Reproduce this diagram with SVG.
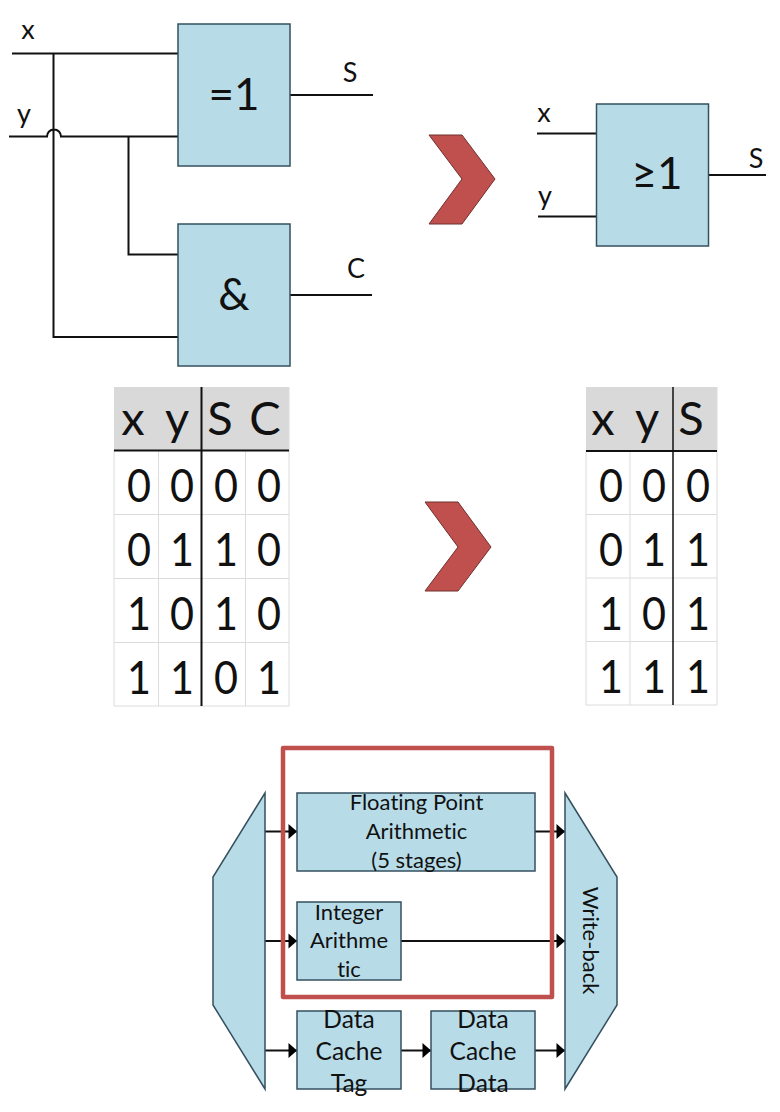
<svg xmlns="http://www.w3.org/2000/svg" width="780" height="1112" viewBox="0 0 780 1112">
<style>
text{font-family:"Lato","Liberation Sans",sans-serif;fill:#111;text-anchor:middle;font-variant-ligatures:none}
.box{fill:#b7dce8;stroke:#35505e;stroke-width:1.5}
.w{fill:none;stroke:#111;stroke-width:2}
.a{fill:none;stroke:#111;stroke-width:2;marker-end:url(#ah)}
.chev{fill:#c0504d;stroke:#6f302e;stroke-width:1}
.lab{font-size:27px}
.gate{font-size:44px}
.cell{font-size:47px}
.sm{font-size:22px}
.md{font-size:24.500px}
.grid{stroke:#dcdcdc;stroke-width:1;fill:none}
.hd{fill:#d9d9d9}
.tl{stroke:#111;stroke-width:2;fill:none}
</style>
<defs>
<marker id="ah" markerUnits="userSpaceOnUse" markerWidth="10" markerHeight="18" refX="9" refY="9" orient="auto"><path d="M0.500 1.500L9 9L0.500 16.500Z" fill="#000"/></marker>
</defs>
<g id="connectors">
<path class="w" d="M12 53.500H178M53.500 53.500V337H178M9 136.500H47A7 7 0 0 1 61 136.500H178M128.500 136.500V254.500H178M290 95H373M290 295H372M537 133.500H596M538 216.500H596M708 175H766"/>
<path class="a" d="M265 831.500H297"/>
<path class="a" d="M535 831.500H565"/>
<path class="a" d="M265 941H297"/>
<path class="a" d="M401 941H565"/>
<path class="a" d="M265 1050.500H297"/>
<path class="a" d="M401 1050.500H431"/>
<path class="a" d="M535 1050.500H565"/>
</g>
<g id="gate-xor"><rect class="box" x="178" y="24" width="112" height="142"/><text class="gate" x="234" y="110">=1</text></g>
<g id="gate-and"><rect class="box" x="178" y="224" width="112" height="142"/><text class="gate" x="234" y="310">&amp;</text></g>
<g id="gate-or"><rect class="box" x="596.500" y="104" width="112" height="142"/><text class="gate" x="657" y="189">≥1</text></g>
<g id="labels">
<text class="lab" x="28" y="39">x</text><text class="lab" x="24" y="123">y</text><text class="lab" x="350" y="82">S</text><text class="lab" x="356" y="278">C</text>
<text class="lab" x="544" y="122">x</text><text class="lab" x="545" y="205">y</text><text class="lab" x="756" y="168">S</text>
</g>
<polygon id="chevron-top" class="chev" points="429,135 462,135 495,179 462,224 429,224 462,179"/>
<polygon id="chevron-mid" class="chev" points="425,502 458,502 491,547 458,591 425,591 458,547"/>
<g id="table-left">
<rect class="hd" x="114" y="387" width="175" height="63"/>
<path class="grid" d="M114 450V706M158.500 450V706M245.500 450V706M289 387V706M114 514.500H289M114 578.500H289M114 642.500H289M114 706H289"/>
<path class="tl" d="M114 450.500H289M201.500 387V706"/>
<text class="cell" x="133" y="435">x</text><text class="cell" x="177" y="435">y</text><text class="cell" x="220" y="435">S</text><text class="cell" x="265" y="435">C</text>
<text class="cell" textLength="24" lengthAdjust="spacingAndGlyphs" x="139" y="502">0</text><text class="cell" textLength="24" lengthAdjust="spacingAndGlyphs" x="182" y="502">0</text><text class="cell" textLength="24" lengthAdjust="spacingAndGlyphs" x="226" y="502">0</text><text class="cell" textLength="24" lengthAdjust="spacingAndGlyphs" x="269" y="502">0</text>
<text class="cell" textLength="24" lengthAdjust="spacingAndGlyphs" x="139" y="566">0</text><text class="cell" textLength="24" lengthAdjust="spacingAndGlyphs" x="182" y="566">1</text><text class="cell" textLength="24" lengthAdjust="spacingAndGlyphs" x="226" y="566">1</text><text class="cell" textLength="24" lengthAdjust="spacingAndGlyphs" x="269" y="566">0</text>
<text class="cell" textLength="24" lengthAdjust="spacingAndGlyphs" x="139" y="630">1</text><text class="cell" textLength="24" lengthAdjust="spacingAndGlyphs" x="182" y="630">0</text><text class="cell" textLength="24" lengthAdjust="spacingAndGlyphs" x="226" y="630">1</text><text class="cell" textLength="24" lengthAdjust="spacingAndGlyphs" x="269" y="630">0</text>
<text class="cell" textLength="24" lengthAdjust="spacingAndGlyphs" x="139" y="694">1</text><text class="cell" textLength="24" lengthAdjust="spacingAndGlyphs" x="182" y="694">1</text><text class="cell" textLength="24" lengthAdjust="spacingAndGlyphs" x="226" y="694">0</text><text class="cell" textLength="24" lengthAdjust="spacingAndGlyphs" x="269" y="694">1</text>
</g>
<g id="table-right">
<rect class="hd" x="586" y="387" width="131" height="64"/>
<path class="grid" d="M586 451V705M630 451V705M717 387V705M586 514.500H717M586 578H717M586 641.500H717M586 705H717"/>
<path class="tl" d="M586 451H717"/><path class="tl" d="M673 387V705" style="stroke-width:1.500"/>
<text class="cell" x="603" y="435">x</text><text class="cell" x="647" y="435">y</text><text class="cell" x="691" y="435">S</text>
<text class="cell" textLength="24" lengthAdjust="spacingAndGlyphs" x="611" y="502">0</text><text class="cell" textLength="24" lengthAdjust="spacingAndGlyphs" x="654" y="502">0</text><text class="cell" textLength="24" lengthAdjust="spacingAndGlyphs" x="698" y="502">0</text>
<text class="cell" textLength="24" lengthAdjust="spacingAndGlyphs" x="611" y="566">0</text><text class="cell" textLength="24" lengthAdjust="spacingAndGlyphs" x="654" y="566">1</text><text class="cell" textLength="24" lengthAdjust="spacingAndGlyphs" x="698" y="566">1</text>
<text class="cell" textLength="24" lengthAdjust="spacingAndGlyphs" x="611" y="630">1</text><text class="cell" textLength="24" lengthAdjust="spacingAndGlyphs" x="654" y="630">0</text><text class="cell" textLength="24" lengthAdjust="spacingAndGlyphs" x="698" y="630">1</text>
<text class="cell" textLength="24" lengthAdjust="spacingAndGlyphs" x="611" y="693">1</text><text class="cell" textLength="24" lengthAdjust="spacingAndGlyphs" x="654" y="693">1</text><text class="cell" textLength="24" lengthAdjust="spacingAndGlyphs" x="698" y="693">1</text>
</g>
<g id="decode"><polygon class="box" points="265,793 265,1089 213,1005 213,877"/></g>
<g id="write-back"><polygon class="box" points="565,793 617,877 617,1005 565,1089"/><text class="sm" transform="translate(583 940.500) rotate(90)">Write-back</text></g>
<g id="fp"><rect class="box" x="297" y="793" width="238" height="78"/><text class="sm" x="416.500" y="810">Floating Point</text><text class="sm" x="416.500" y="839">Arithmetic</text><text class="sm" x="416.500" y="868">(5 stages)</text></g>
<g id="int"><rect class="box" x="297" y="902" width="104" height="78"/><text class="sm" x="349" y="920">Integer</text><text class="sm" x="349" y="948">Arithme</text><text class="sm" x="349" y="977">tic</text></g>
<g id="tag"><rect class="box" x="297" y="1011" width="104" height="78"/><text class="md" x="349" y="1028">Data</text><text class="md" x="349" y="1060">Cache</text><text class="md" x="349" y="1092">Tag</text></g>
<g id="data"><rect class="box" x="431" y="1011" width="104" height="78"/><text class="md" x="483" y="1028">Data</text><text class="md" x="483" y="1060">Cache</text><text class="md" x="483" y="1092">Data</text></g>
<rect id="highlight" x="283" y="748" width="269" height="249" fill="none" stroke="#c0504d" stroke-width="4.500" stroke-linejoin="round"/>
</svg>
